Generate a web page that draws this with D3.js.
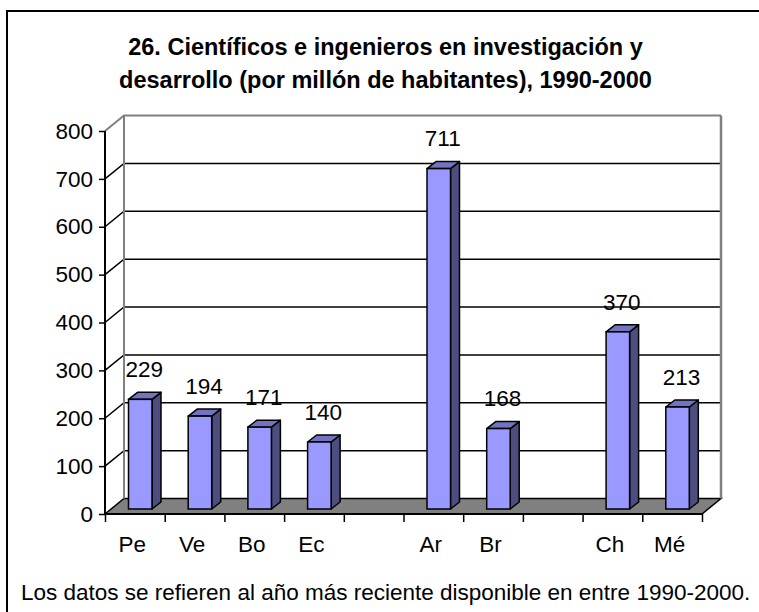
<!DOCTYPE html>
<html>
<head>
<meta charset="utf-8">
<script src="https://cdn.jsdelivr.net/npm/d3@7"></script>
<style>
  body { margin: 0; background: #fff; }
  svg { display: block; font-family: "Liberation Sans", Arial, sans-serif; }
</style>
</head>
<body>
<svg id="chart" width="759" height="612"></svg>
<script>
// data (empty slots are gaps in the category axis)
const categories = ["Pe", "Ve", "Bo", "Ec", "", "Ar", "Br", "", "Ch", "Mé"];
const values = [229, 194, 171, 140, null, 711, 168, null, 370, 213];
const yTicks = [0, 100, 200, 300, 400, 500, 600, 700, 800];
const titleLines = [
  "26. Científicos e ingenieros en investigación y",
  "desarrollo (por millón de habitantes), 1990-2000"
];
const footnote = "Los datos se refieren al año más reciente disponible en entre 1990-2000.";

const svg = d3.select("#chart");
let fs = 22.5;

// plot frame (front plane) + 3d depth offset
let plotL = 105, plotR = 702, plotT = 131, plotB = 514;
let depthX = 19, depthY = -15.5;

let x = d3.scaleBand()
  .domain(d3.range(categories.length))
  .range([plotL, plotR]);
let xEdge = d3.scaleLinear().domain([0, categories.length]).range([plotL, plotR]);
let y = d3.scaleLinear().domain([0, 800]).range([plotB, plotT]);

// outer border, runs off the right/bottom edge like the original
svg.append("rect")
  .attr("x", 7).attr("y", 11)
  .attr("width", 800).attr("height", 700)
  .attr("fill", "#fff").attr("stroke", "#000").attr("stroke-width", 2);

// title
svg.append("g").selectAll("text")
  .data(titleLines)
  .join("text")
  .attr("x", 385.5)
  .attr("y", (d, i) => 55 + i * 33)
  .attr("text-anchor", "middle")
  .attr("font-size", 23.5)
  .attr("font-weight", "bold")
  .text(d => d);

// walls
let walls = svg.append("g");
// floor
walls.append("path")
  .attr("d", `M${plotL},${plotB} L${plotL + depthX},${plotB + depthY} L${plotR + depthX},${plotB + depthY} L${plotR},${plotB} Z`)
  .attr("fill", "#808080").attr("stroke", "#000").attr("stroke-width", 1.5);

// gridlines: diagonal on side wall + horizontal on back wall
let grid = walls.append("g");
yTicks.filter(t => t > 0).forEach(t => {
  let c = t === 800 ? "#808080" : "#000";
  grid.append("path")
    .attr("d", `M${plotL},${y(t)} L${plotL + depthX},${y(t) + depthY} L${plotR + depthX},${y(t) + depthY}`)
    .attr("fill", "none").attr("stroke", c).attr("stroke-width", t === 800 ? 2 : 1.5);
});
// back wall edges
walls.append("line")
  .attr("x1", plotL + depthX).attr("x2", plotL + depthX)
  .attr("y1", y(800) + depthY).attr("y2", plotB + depthY)
  .attr("stroke", "#808080").attr("stroke-width", 2);
walls.append("line")
  .attr("x1", plotR + depthX).attr("x2", plotR + depthX)
  .attr("y1", y(800) + depthY).attr("y2", plotB + depthY)
  .attr("stroke", "#808080").attr("stroke-width", 2.5);

// bars
let barOff = 23.5, barW = 23.5, sideX = 9, sideY = -7, baseLift = 5;
let data = categories.map((c, i) => ({ i, c, v: values[i] })).filter(d => d.v != null);

let bars = svg.append("g").selectAll("g.bar")
  .data(data)
  .join("g")
  .attr("class", "bar");

bars.each(function(d) {
  let g = d3.select(this);
  let x0 = x(d.i) + barOff, x1 = x0 + barW;
  let y0 = y(0) - baseLift, y1 = y(d.v) - baseLift;
  g.append("path")
    .attr("d", `M${x1},${y0} L${x1 + sideX},${y0 + sideY} L${x1 + sideX},${y1 + sideY} L${x1},${y1} Z`)
    .attr("fill", "#4d4d80").attr("stroke", "#000").attr("stroke-width", 1.5).attr("stroke-linejoin", "round");
  g.append("path")
    .attr("d", `M${x0},${y1} L${x0 + sideX},${y1 + sideY} L${x1 + sideX},${y1 + sideY} L${x1},${y1} Z`)
    .attr("fill", "#7373bf").attr("stroke", "#000").attr("stroke-width", 1.5).attr("stroke-linejoin", "round");
  g.append("rect")
    .attr("x", x0).attr("y", y1)
    .attr("width", barW).attr("height", y0 - y1)
    .attr("fill", "#9999ff").attr("stroke", "#000").attr("stroke-width", 1.5);
});

// value labels
svg.append("g").selectAll("text")
  .data(data)
  .join("text")
  .attr("x", d => x(d.i) + barOff + barW / 2 + 4)
  .attr("y", d => y(d.v) - baseLift - 30)
  .attr("dy", "0.35em")
  .attr("text-anchor", "middle")
  .attr("font-size", fs)
  .text(d => d.v);

// y axis
let yAxis = svg.append("g")
  .attr("transform", `translate(${plotL},0)`)
  .call(d3.axisLeft(y).tickValues(yTicks).tickSize(6).tickPadding(6));
yAxis.select(".domain").attr("stroke-width", 2).attr("d", `M0,${plotT}V${plotB}`);
yAxis.selectAll(".tick line").attr("stroke-width", 1.5);
yAxis.selectAll("text").attr("font-size", fs).attr("font-family", "Liberation Sans, Arial, sans-serif").attr("fill", "#000");

// x axis: ticks at category boundaries
let xAxis = svg.append("g")
  .attr("transform", `translate(0,${plotB})`)
  .call(d3.axisBottom(xEdge).tickValues(d3.range(categories.length + 1)).tickSize(8).tickFormat(""));
xAxis.select(".domain").attr("stroke-width", 2).attr("d", `M${plotL},0H${plotR}`);
xAxis.selectAll(".tick line").attr("stroke-width", 1.5);

svg.append("g").selectAll("text")
  .data(categories.map((c, i) => ({ c, i })).filter(d => d.c))
  .join("text")
  .attr("x", d => x(d.i) + x.bandwidth() / 2 - 2.5)
  .attr("y", 552)
  .attr("text-anchor", "middle")
  .attr("font-size", fs)
  .text(d => d.c);

// footnote
svg.append("text")
  .attr("x", 21)
  .attr("y", 600)
  .attr("font-size", fs)
  .text(footnote);
</script>
</body>
</html>
